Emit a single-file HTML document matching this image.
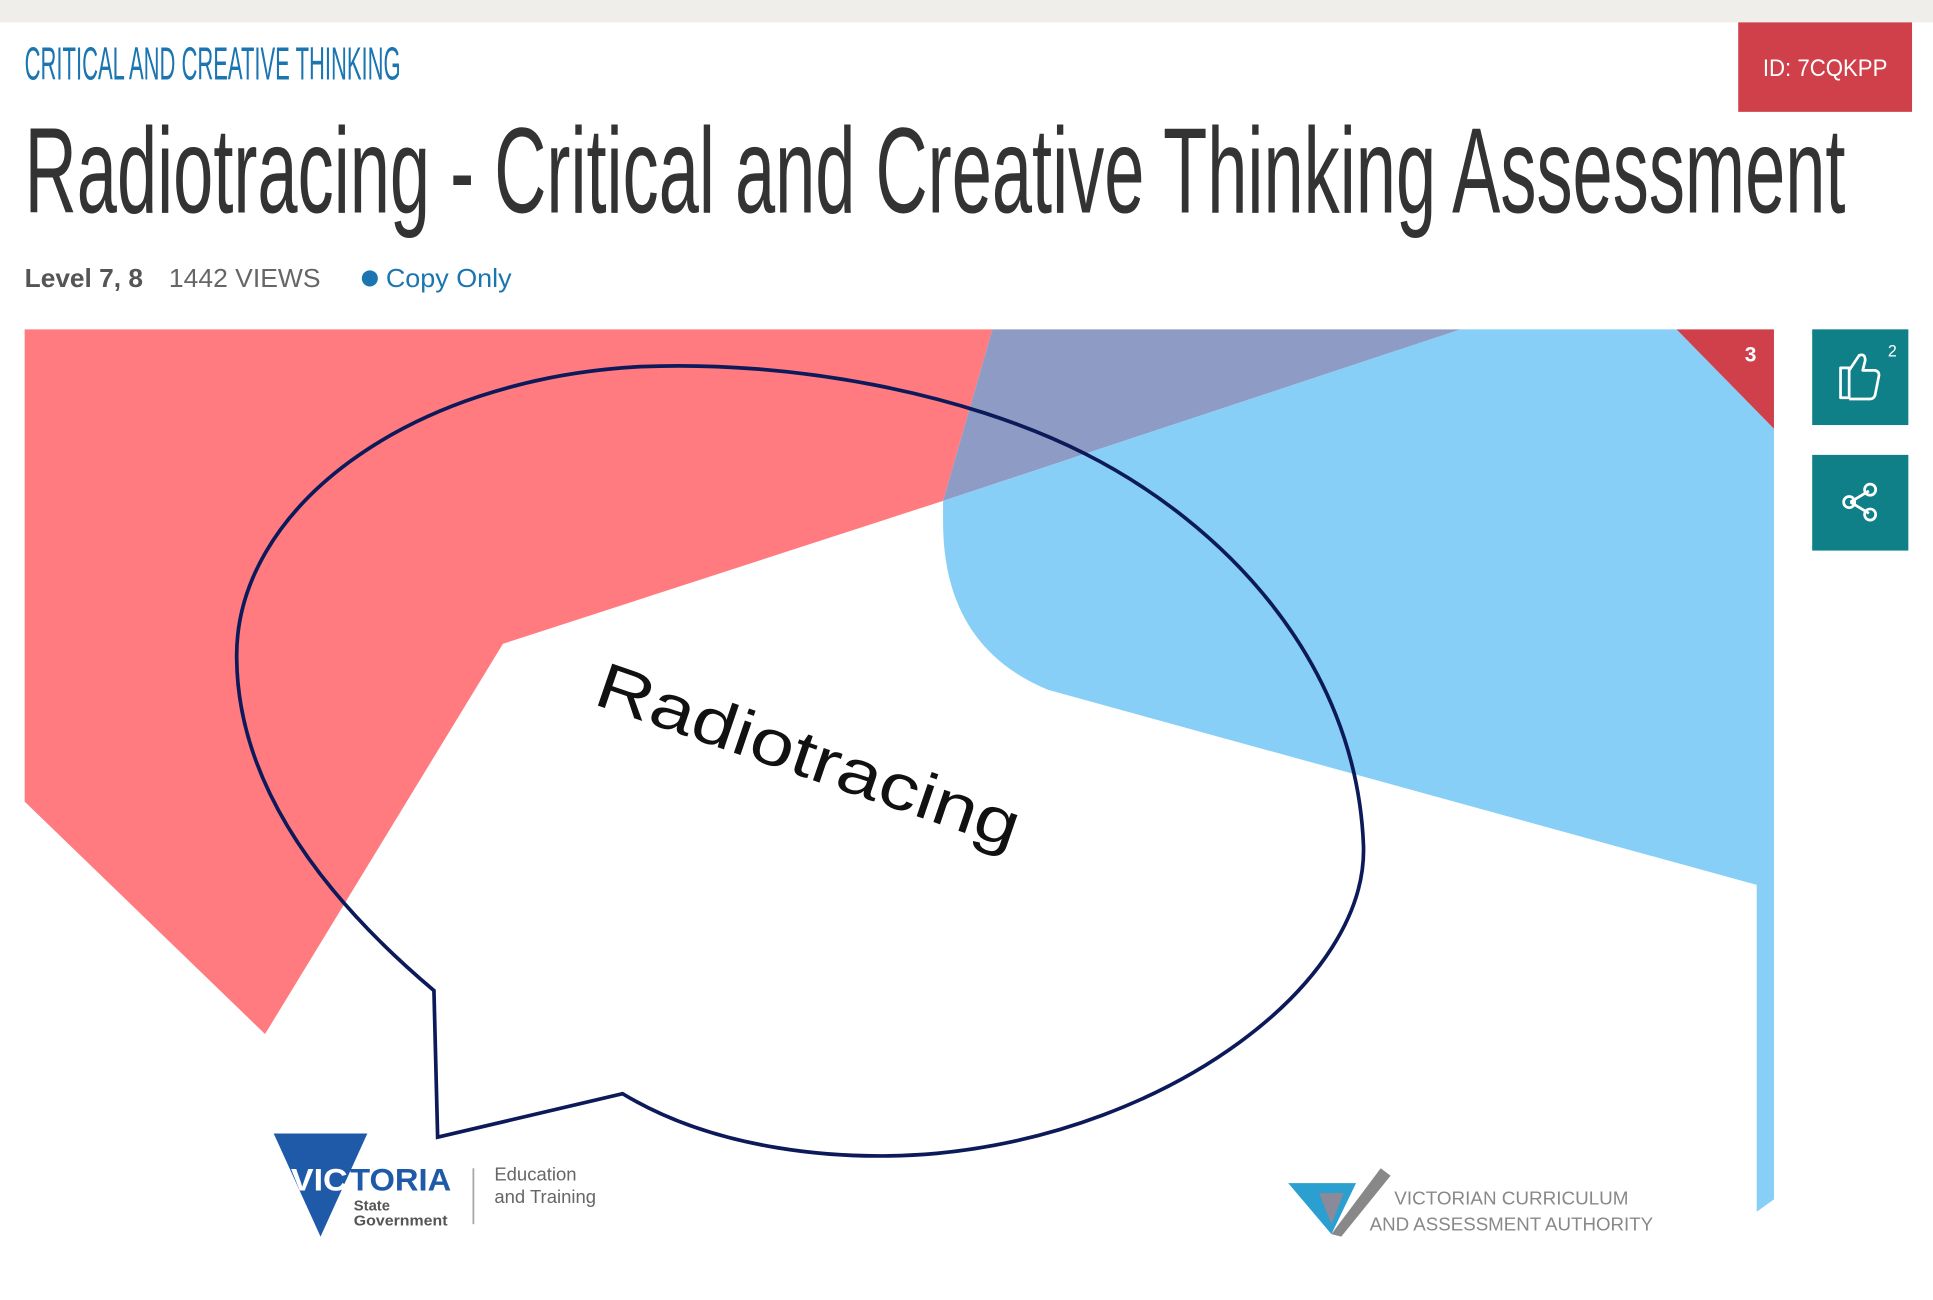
<!DOCTYPE html>
<html><head><meta charset="utf-8"><style>
html,body{margin:0;padding:0;background:#fff;}
svg{display:block;}
</style></head><body>
<svg width="1933" height="1300" viewBox="0 0 1568 1046" preserveAspectRatio="none" xmlns="http://www.w3.org/2000/svg" font-family="Liberation Sans, sans-serif">
<rect x="0" y="0" width="1568" height="1046" fill="#fff"/>
<rect x="0" y="0" width="1568" height="18" fill="#efeeea"/>
<text x="20" y="64" font-size="37" fill="#1a75b0" textLength="305" lengthAdjust="spacingAndGlyphs">CRITICAL AND CREATIVE THINKING</text>
<rect x="1410" y="18" width="141" height="72" fill="#d0404a"/>
<text x="1430" y="61" font-size="19" fill="#fff" textLength="101" lengthAdjust="spacingAndGlyphs">ID: 7CQKPP</text>
<text x="20" y="171" font-size="98" fill="#333" textLength="1477" lengthAdjust="spacingAndGlyphs">Radiotracing - Critical and Creative Thinking Assessment</text>
<text x="20" y="231" font-size="21" font-weight="bold" fill="#555" textLength="96" lengthAdjust="spacingAndGlyphs">Level 7, 8</text>
<text x="137" y="231" font-size="21" fill="#666" textLength="123" lengthAdjust="spacingAndGlyphs">1442 VIEWS</text>
<circle cx="300" cy="224" r="6.5" fill="#1a75b0"/>
<text x="313" y="231" font-size="21" fill="#1a75b0" textLength="102" lengthAdjust="spacingAndGlyphs">Copy Only</text>

<polygon points="20,265 805,265 765,403 408,518 215,832 20,645" fill="#ff7b80"/>
<polygon points="805,265 1185,265 765,403" fill="#8e9cc5"/>
<path d="M1185,265 L1360,265 L1439,345 L1439,965 L1425,975 L1425,712 L850,555 Q765,520 765,420 L765,403 Z" fill="#87cff6"/>
<polygon points="1360,265 1439,265 1439,345" fill="#d0404a"/>
<text x="1420" y="291" font-size="17" font-weight="bold" fill="#fff" text-anchor="middle">3</text>

<path d="M352,797 L355,915 L505,880 C580,925 680,935 760,928 C950,910 1110,790 1106,680 C1100,530 990,420 880,365 C780,315 640,290 520,295 C330,305 190,410 192,530 C193,630 260,720 352,797 Z" fill="none" stroke="#0d1a5a" stroke-width="3"/>
<text transform="translate(480,566) rotate(19)" font-size="52" fill="#111" textLength="360" lengthAdjust="spacingAndGlyphs">Radiotracing</text>

<polygon points="222,912 298,912 260,995" fill="#1f5aa8"/>
<text x="236" y="958" font-size="25" font-weight="bold" fill="#fff" textLength="46" lengthAdjust="spacingAndGlyphs">VIC</text>
<text x="284" y="958" font-size="25" font-weight="bold" fill="#1f5aa8" textLength="82" lengthAdjust="spacingAndGlyphs">TORIA</text>
<text x="287" y="974" font-size="12" font-weight="bold" fill="#555">State</text>
<text x="287" y="986" font-size="12" font-weight="bold" fill="#555" textLength="76" lengthAdjust="spacingAndGlyphs">Government</text>
<line x1="384" y1="940" x2="384" y2="985" stroke="#aaa" stroke-width="1.5"/>
<text x="401" y="950" font-size="15" fill="#666">Education</text>
<text x="401" y="968" font-size="15" fill="#666">and Training</text>

<polygon points="1045,952 1100,952 1080,993" fill="#2a9fd0"/>
<polygon points="1070,960 1090,960 1080,985" fill="#8a8a9a"/>
<polygon points="1080,993 1120,940 1128,946 1088,995" fill="#888"/>
<text x="1131" y="969" font-size="15" fill="#888" textLength="190" lengthAdjust="spacingAndGlyphs">VICTORIAN CURRICULUM</text>
<text x="1111" y="990" font-size="15" fill="#888" textLength="230" lengthAdjust="spacingAndGlyphs">AND ASSESSMENT AUTHORITY</text>

<rect x="1470" y="265" width="78" height="77" fill="#0f8088"/>
<path d="M1493,296 h7 v24 h-7 z M1500,298 l8,-12 q5,-2 5,4 l-2,8 h10 q4,1 3,5 l-3,15 q-1,3 -4,3 h-17" fill="none" stroke="#fff" stroke-width="2.2" stroke-linejoin="round"/>
<text x="1535" y="287" font-size="13" fill="#fff" text-anchor="middle">2</text>
<rect x="1470" y="366" width="78" height="77" fill="#0f8088"/>
<g stroke="#fff" stroke-width="2.2" fill="none">
<line x1="1501" y1="404" x2="1516" y2="395"/><line x1="1501" y1="404" x2="1516" y2="413"/>
<circle cx="1500" cy="404" r="4.5"/><circle cx="1517" cy="394" r="4.5"/><circle cx="1517" cy="414" r="4.5"/>
</g>
</svg>
</body></html>
